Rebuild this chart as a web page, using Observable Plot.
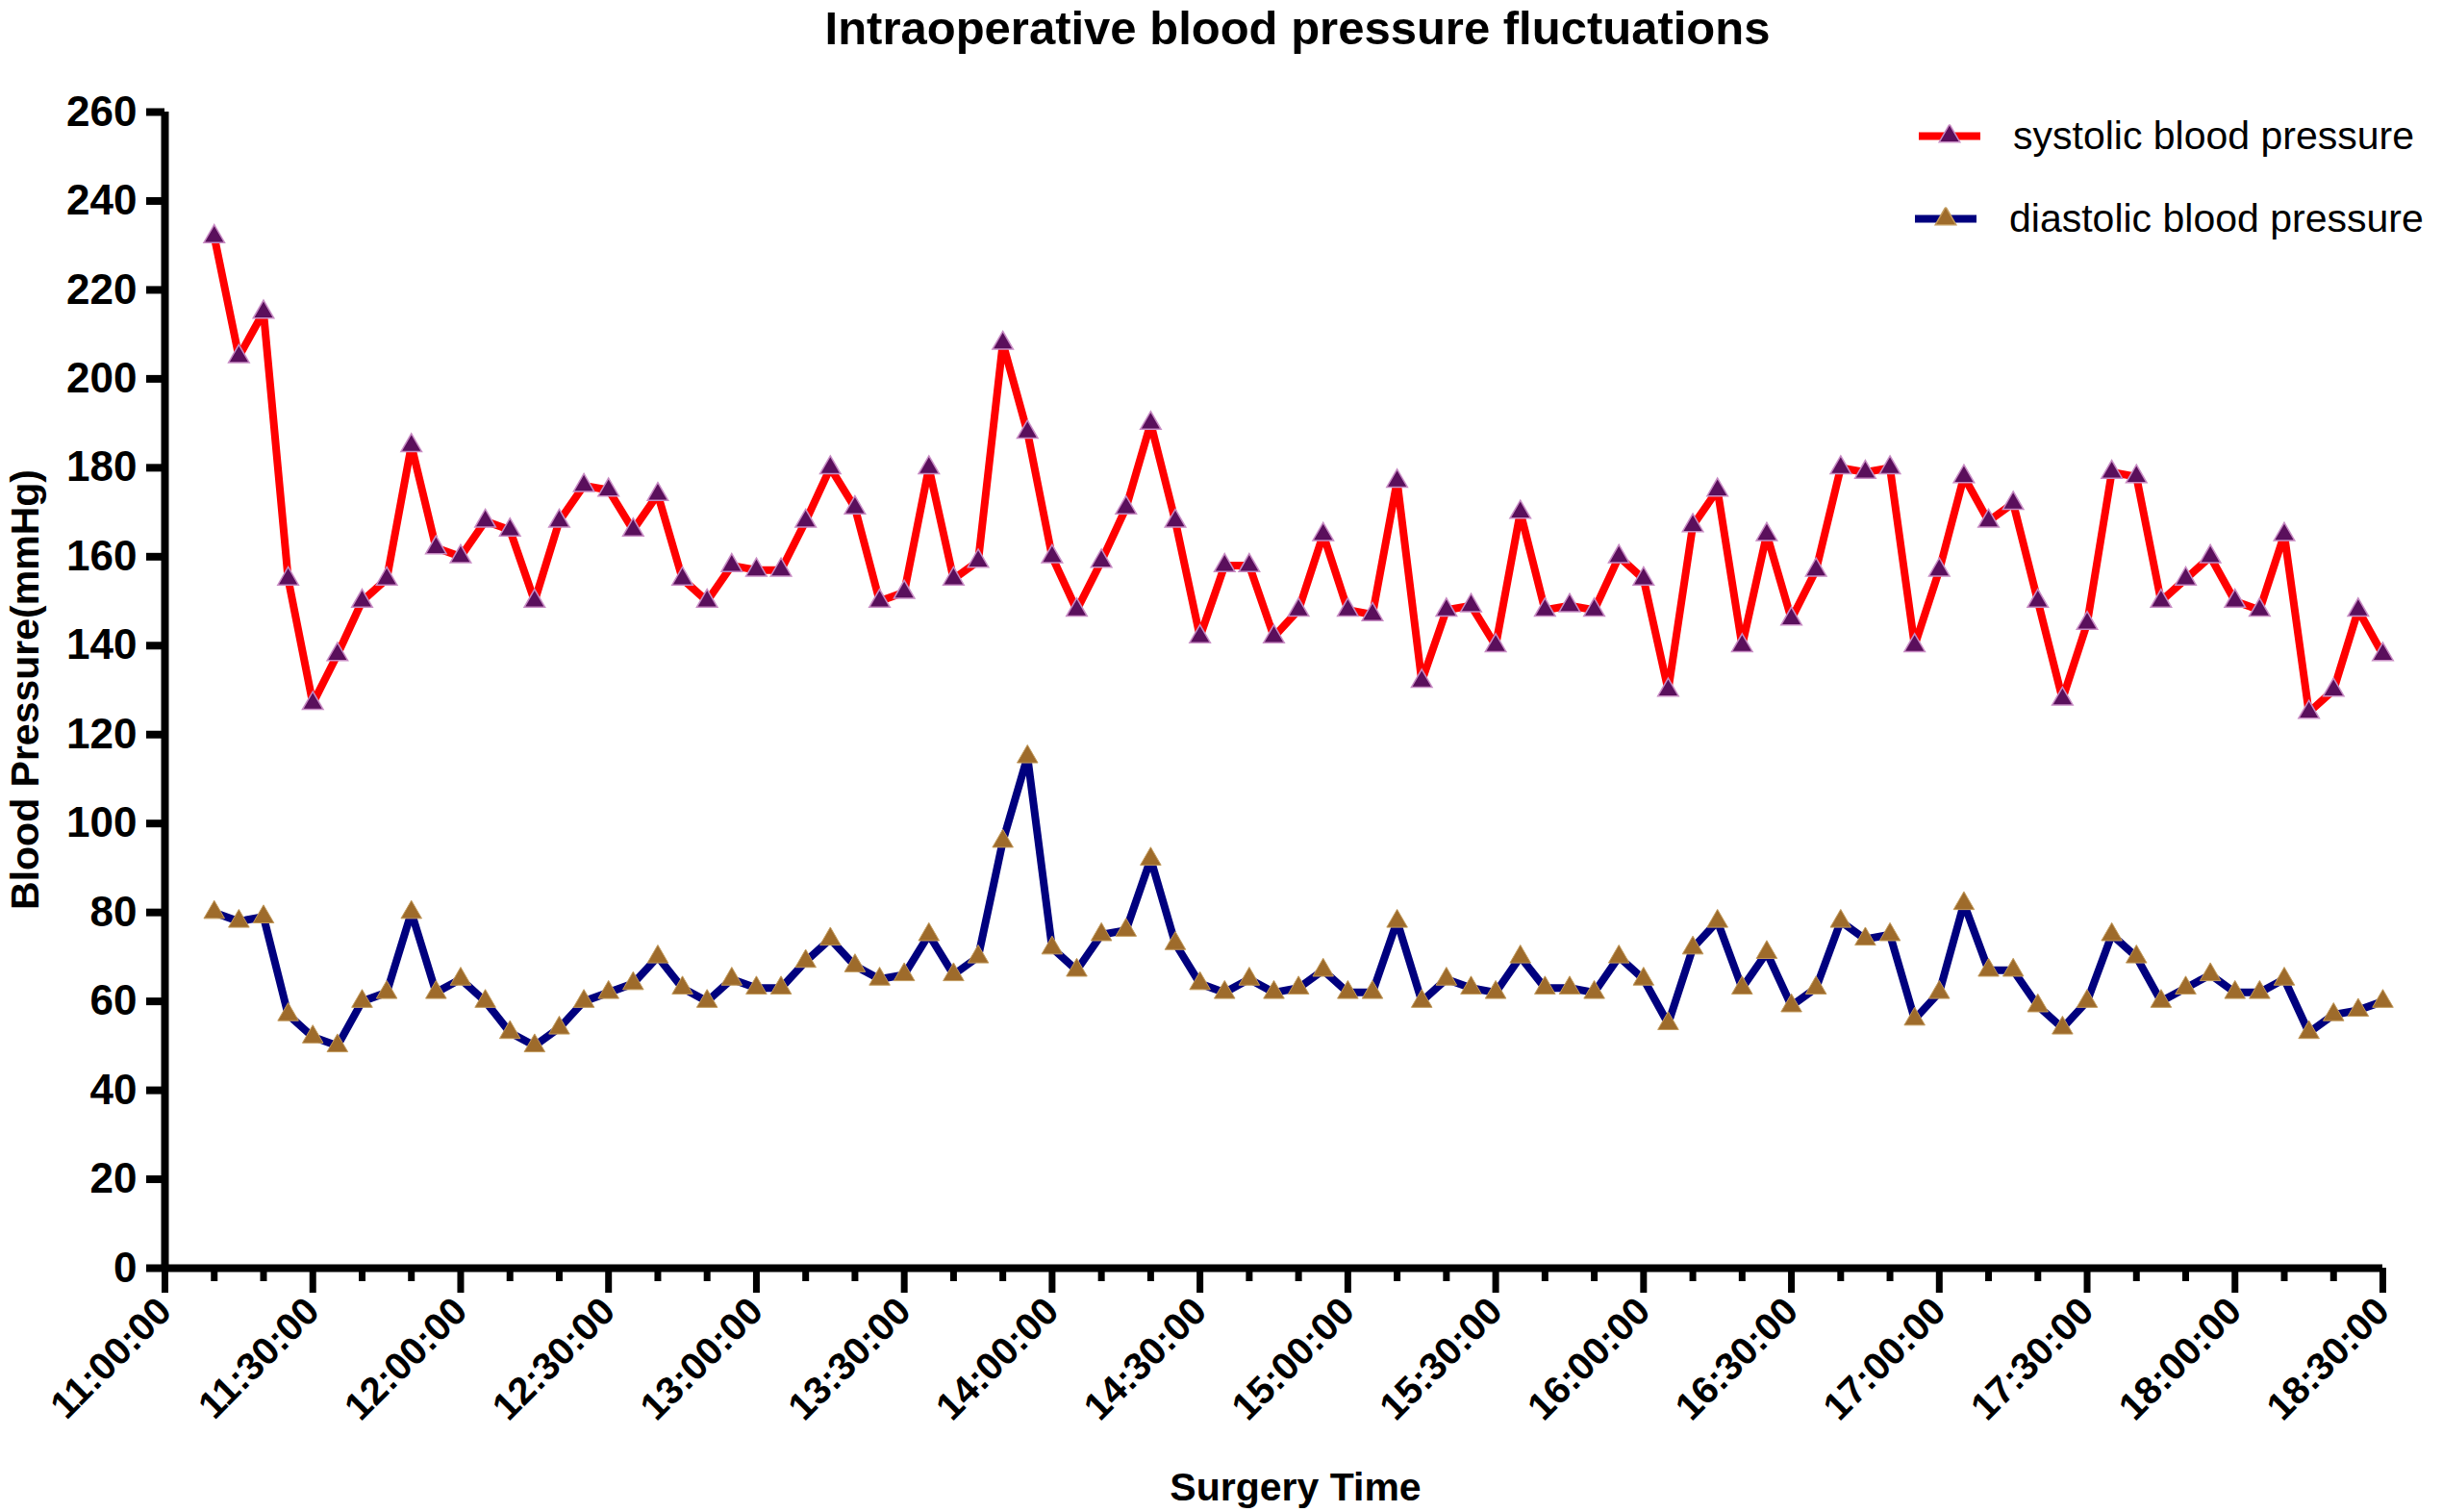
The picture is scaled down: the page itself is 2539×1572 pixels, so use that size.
<!DOCTYPE html>
<html>
<head>
<meta charset="utf-8">
<script src="https://cdn.jsdelivr.net/npm/d3@7"></script>
<script src="https://cdn.jsdelivr.net/npm/@observablehq/plot@0.6"></script>
<style>
  html, body { margin: 0; padding: 0; background: #fff; }
  #wrap { position: relative; width: 2539px; height: 1572px; overflow: hidden; font-family: "Liberation Sans", Arial, sans-serif; }
  #wrap svg.plot { position: absolute; left: 0; top: 0; }
  .title { position: absolute; left: 1349px; top: 29px; transform: translate(-50%, -50%); font-weight: bold; font-size: 49px; white-space: nowrap; }
  .ylab { position: absolute; left: 26px; top: 717px; transform: translate(-50%, -50%) rotate(-90deg); font-weight: bold; font-size: 41px; white-space: nowrap; }
  .xlab { position: absolute; left: 1347px; top: 1546px; transform: translate(-50%, -50%); font-weight: bold; font-size: 41px; white-space: nowrap; }
  .leg { position: absolute; display: flex; align-items: center; font-size: 41px; white-space: nowrap; transform: translateY(-50%); }
  .leg svg { margin-right: 34px; }
</style>
</head>
<body>
<div id="wrap"></div>
<script>
// ---- data ----
const tickLabels = ["11:00:00","11:30:00","12:00:00","12:30:00","13:00:00","13:30:00","14:00:00","14:30:00","15:00:00","15:30:00","16:00:00","16:30:00","17:00:00","17:30:00","18:00:00","18:30:00"];
const yTicks = [0,20,40,60,80,100,120,140,160,180,200,220,240,260];
const times = [
  "11:10","11:15","11:20","11:25","11:30","11:35","11:40","11:45","11:50","11:55",
  "12:00","12:05","12:10","12:15","12:20","12:25","12:30","12:35","12:40","12:45",
  "12:50","12:55","13:00","13:05","13:10","13:15","13:20","13:25","13:30","13:35",
  "13:40","13:45","13:50","13:55","14:00","14:05","14:10","14:15","14:20","14:25",
  "14:30","14:35","14:40","14:45","14:50","14:55","15:00","15:05","15:10","15:15",
  "15:20","15:25","15:30","15:35","15:40","15:45","15:50","15:55","16:00","16:05",
  "16:10","16:15","16:20","16:25","16:30","16:35","16:40","16:45","16:50","16:55",
  "17:00","17:05","17:10","17:15","17:20","17:25","17:30","17:35","17:40","17:45",
  "17:50","17:55","18:00","18:05","18:10","18:15","18:20","18:25","18:30"
];
const systolic = [
  232,205,215,155,127,138,150,155,185,162,
  160,168,166,150,168,176,175,166,174,155,
  150,158,157,157,168,180,171,150,152,180,
  155,159,208,188,160,148,159,171,190,168,
  142,158,158,142,148,165,148,147,177,132,
  148,149,140,170,148,149,148,160,155,130,
  167,175,140,165,146,157,180,179,180,140,
  157,178,168,172,150,128,145,179,178,150,
  155,160,150,148,165,125,130,148,138
];
const diastolic = [
  80,78,79,57,52,50,60,62,80,62,
  65,60,53,50,54,60,62,64,70,63,
  60,65,63,63,69,74,68,65,66,75,
  66,70,96,115,72,67,75,76,92,73,
  64,62,65,62,63,67,62,62,78,60,
  65,63,62,70,63,63,62,70,65,55,
  72,78,63,71,59,63,78,74,75,56,
  62,82,67,67,59,54,60,75,70,60,
  63,66,62,62,65,53,57,58,60
];
const seriesNames = ["systolic blood pressure", "diastolic blood pressure"];

// ---- styles ----
const SYS_LINE = "#ff0000", SYS_FILL = "#5a0f5c", SYS_EDGE = "#c88cc4";
const DIA_LINE = "#00007e", DIA_FILL = "#9e6b2b", DIA_EDGE = "#c29a5c";

const parseT = d3.utcParse("%H:%M");
const parseTick = d3.utcParse("%H:%M:%S");
const data = times.map((t, i) => ({t: parseT(t), sys: systolic[i], dia: diastolic[i]}));
const majorTicks = tickLabels.map(parseTick);
const t0 = majorTicks[0], t1 = majorTicks[majorTicks.length - 1];
const minorTicks = d3.utcMinute.every(10).range(t0, new Date(+t1 + 1)).filter(d => d.getUTCMinutes() % 30 !== 0);

const chart = Plot.plot({
  width: 2539,
  height: 1572,
  marginLeft: 171,
  marginRight: 62,
  marginTop: 116,
  marginBottom: 254,
  style: {fontFamily: "'Liberation Sans', Arial, sans-serif", fontWeight: "bold", background: "transparent", color: "black", overflow: "visible"},
  x: {type: "utc", domain: [t0, t1]},
  y: {domain: [0, 260]},
  marks: [
    Plot.axisY({ticks: yTicks, tickSize: 19, strokeWidth: 8, tickPadding: 10, fontSize: 44, label: null}),
    Plot.axisX({ticks: minorTicks, tickSize: 14, strokeWidth: 7, tickFormat: () => "", label: null}),
    Plot.axisX({ticks: majorTicks, tickSize: 26, strokeWidth: 7, tickFormat: d3.utcFormat("%H:%M:%S"), tickRotate: -45, textAnchor: "end", fontSize: 40, tickPadding: 12, label: null}),
    Plot.ruleY([0], {stroke: "black", strokeWidth: 8}),
    Plot.ruleX([t0], {stroke: "black", strokeWidth: 8, y1: 0, y2: 260}),
    Plot.line(data, {x: "t", y: "dia", stroke: DIA_LINE, strokeWidth: 8, strokeLinejoin: "miter"}),
    Plot.dot(data, {x: "t", y: "dia", symbol: "triangle", r: 8, fill: DIA_FILL, stroke: DIA_EDGE, strokeWidth: 1}),
    Plot.line(data, {x: "t", y: "sys", stroke: SYS_LINE, strokeWidth: 8, strokeLinejoin: "miter"}),
    Plot.dot(data, {x: "t", y: "sys", symbol: "triangle", r: 8, fill: SYS_FILL, stroke: SYS_EDGE, strokeWidth: 1.5})
  ]
});
chart.classList.add("plot");

const wrap = document.getElementById("wrap");
wrap.appendChild(chart);

function addDiv(cls, text, styles) {
  const d = document.createElement("div");
  d.className = cls;
  d.textContent = text;
  if (styles) Object.assign(d.style, styles);
  wrap.appendChild(d);
  return d;
}
addDiv("title", "Intraoperative blood pressure fluctuations");
addDiv("ylab", "Blood Pressure(mmHg)");
addDiv("xlab", "Surgery Time");

function swatch(line, fill, edge) {
  const ns = "http://www.w3.org/2000/svg";
  const s = document.createElementNS(ns, "svg");
  s.setAttribute("width", 64); s.setAttribute("height", 24);
  const l = document.createElementNS(ns, "line");
  l.setAttribute("x1", 0); l.setAttribute("x2", 64); l.setAttribute("y1", 12); l.setAttribute("y2", 12);
  l.setAttribute("stroke", line); l.setAttribute("stroke-width", 8);
  s.appendChild(l);
  const p = document.createElementNS(ns, "path");
  p.setAttribute("d", d3.symbol(d3.symbolTriangle, Math.PI * 8 * 8)());
  p.setAttribute("transform", "translate(32,12)");
  p.setAttribute("fill", fill); p.setAttribute("stroke", edge); p.setAttribute("stroke-width", 1.5);
  s.appendChild(p);
  return s;
}
const legendItems = [
  {name: seriesNames[0], line: SYS_LINE, fill: SYS_FILL, edge: SYS_EDGE, left: 1995, top: 141},
  {name: seriesNames[1], line: DIA_LINE, fill: DIA_FILL, edge: DIA_EDGE, left: 1991, top: 227}
];
for (const it of legendItems) {
  const d = document.createElement("div");
  d.className = "leg";
  d.style.left = it.left + "px";
  d.style.top = it.top + "px";
  d.appendChild(swatch(it.line, it.fill, it.edge));
  const sp = document.createElement("span");
  sp.textContent = it.name;
  d.appendChild(sp);
  wrap.appendChild(d);
}
</script>
</body>
</html>
